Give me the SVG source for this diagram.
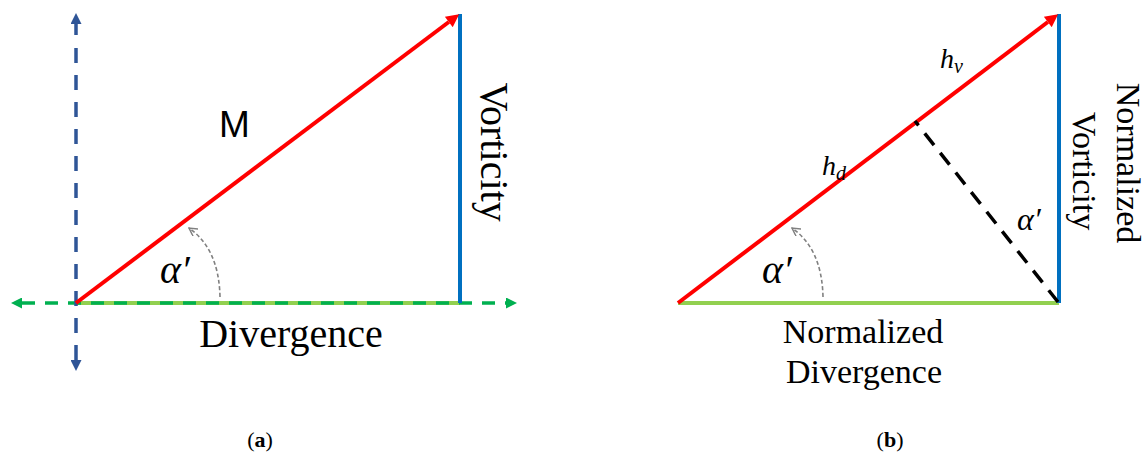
<svg xmlns="http://www.w3.org/2000/svg" width="1146" height="459" viewBox="0 0 1146 459">
<defs>
<style>
.red{stroke:#FF0000;stroke-width:4;fill:none}
.blue{stroke:#0070C0;stroke-width:4;fill:none}
.lgreen{stroke:#92D050;stroke-width:4;fill:none}
.gray{stroke:#808080;stroke-width:1.6;fill:none;stroke-dasharray:4 2.5}
</style>
<marker id="ah-red" viewBox="0 0 10 10" refX="0" refY="5" markerWidth="15" markerHeight="13" markerUnits="userSpaceOnUse" orient="auto"><path d="M0,0 L10,5 L0,10 z" fill="#FF0000"/></marker>
<marker id="ah-blue" viewBox="0 0 10 10" refX="0" refY="5" markerWidth="12" markerHeight="11" markerUnits="userSpaceOnUse" orient="auto-start-reverse"><path d="M0,0 L10,5 L0,10 z" fill="#2F5597"/></marker>
<marker id="ah-green" viewBox="0 0 10 10" refX="0" refY="5" markerWidth="12" markerHeight="11" markerUnits="userSpaceOnUse" orient="auto-start-reverse"><path d="M0,0 L10,5 L0,10 z" fill="#00B050"/></marker>
<marker id="ah-gray" viewBox="0 0 10 10" refX="9" refY="5" markerWidth="9" markerHeight="9" markerUnits="userSpaceOnUse" orient="auto"><path d="M0,0 L9,5 L0,10" fill="none" stroke="#808080" stroke-width="1.6"/></marker>
</defs>
<rect width="1146" height="459" fill="#fff"/>

<g id="connectors">
  <line x1="76" y1="303" x2="460" y2="303" class="lgreen"/>
  <line x1="22" y1="303" x2="506" y2="303" stroke="#00B050" stroke-width="3.5" stroke-dasharray="13 10" marker-start="url(#ah-green)" marker-end="url(#ah-green)"/>
  <line x1="76" y1="24" x2="76" y2="360" stroke="#2F5597" stroke-width="3.5" stroke-dasharray="11 13 15 12 15 12 15 12 15 12 15 12 15 12 15 12 15 12 15 12 15 12 15 12 15 12" marker-start="url(#ah-blue)" marker-end="url(#ah-blue)"/>
  <line x1="460" y1="14" x2="460" y2="303" class="blue"/>
  <line x1="76" y1="303" x2="448.8" y2="22" class="red" marker-end="url(#ah-red)"/>
  <path d="M220 297 Q219 249 189 228" class="gray" marker-end="url(#ah-gray)"/>
  <line x1="678" y1="303" x2="1059" y2="303" class="lgreen"/>
  <line x1="1059" y1="14" x2="1059" y2="303" class="blue"/>
  <line x1="678" y1="303" x2="1047.8" y2="22" class="red" marker-end="url(#ah-red)"/>
  <line x1="1058" y1="302" x2="915" y2="121" stroke="#000" stroke-width="3.5" stroke-dasharray="15 10"/>
  <path d="M823 297 Q822 249 792 228" class="gray" marker-end="url(#ah-gray)"/>
</g>

<g font-family="'Liberation Serif', 'Times New Roman', serif" fill="#000">
<g id="label-M"><text x="219" y="137" font-family="'Liberation Sans', Arial, sans-serif" font-size="37">M</text></g>
<g id="label-vorticity"><text transform="translate(481,152) rotate(90)" text-anchor="middle" font-size="40">Vorticity</text></g>
<g id="label-divergence"><text x="291" y="347" text-anchor="middle" font-size="40">Divergence</text></g>
<g id="label-alpha-a"><text x="160" y="283" font-style="italic" font-size="40">α′</text></g>
<g id="label-hv"><text x="940" y="68" font-style="italic" font-size="28">h<tspan font-size="20" dy="5">v</tspan></text></g>
<g id="label-hd"><text x="822" y="175" font-style="italic" font-size="28">h<tspan font-size="20" dy="5">d</tspan></text></g>
<g id="label-alpha-b"><text x="762" y="283" font-style="italic" font-size="40">α′</text></g>
<g id="label-alpha-b2"><text x="1017" y="230" font-style="italic" font-size="32">α′</text></g>
<g id="label-norm-vort"><text transform="translate(1117,163) rotate(90)" text-anchor="middle" font-size="34">Normalized</text><text transform="translate(1073,171) rotate(90)" text-anchor="middle" font-size="34">Vorticity</text></g>
<g id="label-norm-div"><text x="863" y="343" text-anchor="middle" font-size="34">Normalized</text><text x="864" y="383" text-anchor="middle" font-size="34">Divergence</text></g>
<g id="caption-a"><text x="260" y="447" text-anchor="middle" font-size="22">(<tspan font-weight="bold">a</tspan>)</text></g>
<g id="caption-b"><text x="890" y="447" text-anchor="middle" font-size="22">(<tspan font-weight="bold">b</tspan>)</text></g>
</g>
</svg>
